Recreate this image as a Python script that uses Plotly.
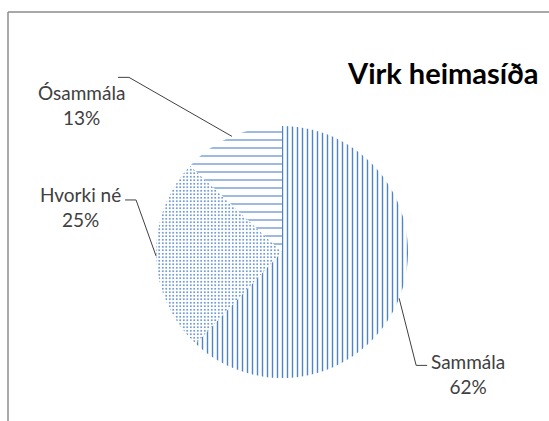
import math
import plotly.graph_objects as go

labels = ["Sammála", "Hvorki né", "Ósammála"]
values = [62, 25, 13]
shapes_pat = ["|", ".", "-"]
title_text = "Virk heimasíða"

W, H = 549, 421
cx, cy, r = 282, 252, 126  # pie centre/radius in px (layout)

fig = go.Figure(go.Pie(
    labels=labels, values=values, sort=False, direction="clockwise", rotation=0,
    textinfo="none", hoverinfo="label+percent", showlegend=False,
    marker=dict(colors=["white"] * 3, line=dict(width=0),
                pattern=dict(shape=shapes_pat, fgcolor="#4f84c9", bgcolor="white",
                             size=[5, 3.5, 8], solidity=[0.28, 0.22, 0.14])),
    domain=dict(x=[(cx - r) / W, (cx + r) / W], y=[1 - (cy + r) / H, 1 - (cy - r) / H]),
))

def px(x):
    return x / W

def py(y):
    return 1 - y / H

# label elbow offsets (px), tail direction, text shifts (px)
offs = [(17, 67, 1, 2, -9), (-20, -56, -1, -2, -7), (-103, -59, -1, 9, -28)]
total = sum(values)
cum = 0
shapes = []
annots = []
for lab, v, (dx, dy, sgn, xs, ys) in zip(labels, values, offs):
    mid = (cum + v / 2) / total * 2 * math.pi
    cum += v
    ex, ey = cx + r * math.sin(mid), cy - r * math.cos(mid)
    bx, by = ex + dx, ey + dy
    tx = bx + sgn * 11
    shapes.append(dict(type="path", xref="paper", yref="paper",
                       path=f"M {px(ex)} {py(ey)} L {px(bx)} {py(by)} L {px(tx)} {py(by)}",
                       line=dict(color="#404040", width=1)))
    pct = round(v / total * 100)
    annots.append(dict(x=px(tx + xs), y=py(by), xref="paper", yref="paper",
                       text=f"{lab}<br>{pct}%", showarrow=False,
                       xanchor="left" if sgn > 0 else "right", yanchor="middle",
                       yshift=ys, align="center",
                       font=dict(family="Lato", size=19, color="#404040")))

# chart frame (left and top edges visible)
shapes.append(dict(type="line", xref="paper", yref="paper", x0=px(8), x1=px(8), y0=py(12), y1=0,
                   line=dict(color="#8c8c8c", width=1.5)))
shapes.append(dict(type="line", xref="paper", yref="paper", x0=px(8), x1=1, y0=py(12), y1=py(12),
                   line=dict(color="#8c8c8c", width=1.5)))

annots.append(dict(x=px(345), y=py(72), xref="paper", yref="paper", text=f"<b>{title_text}</b>",
                   showarrow=False, xanchor="left", yanchor="middle",
                   font=dict(family="Lato", size=29, color="black")))

fig.update_layout(width=W, height=H, margin=dict(l=0, r=0, t=0, b=0),
                  paper_bgcolor="white", plot_bgcolor="white",
                  shapes=shapes, annotations=annots)
fig.write_html("out.html", config={"displayModeBar": False},
               post_script="document.body.style.margin='0';")
